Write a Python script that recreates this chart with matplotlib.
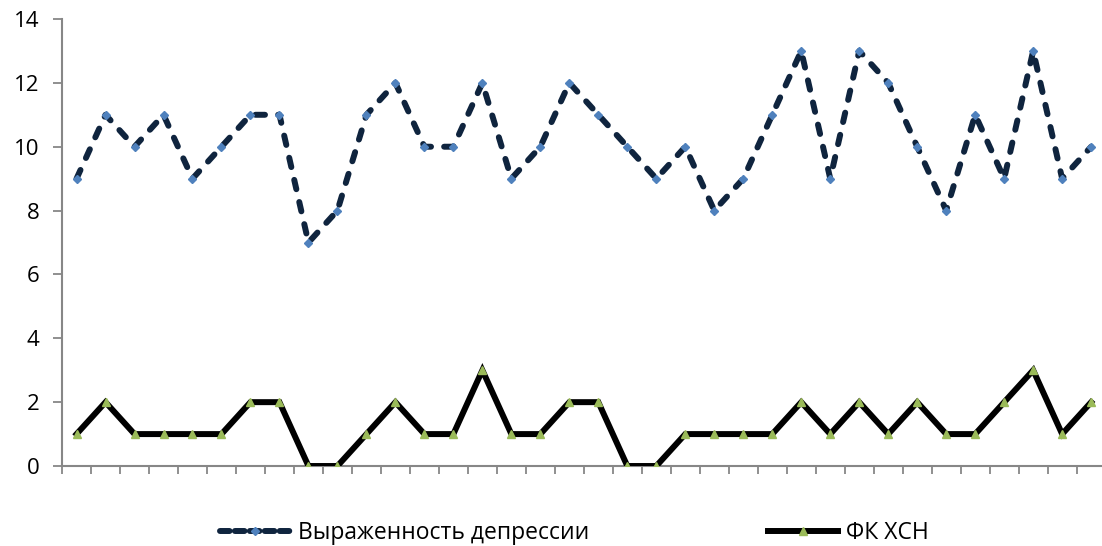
import matplotlib.pyplot as plt
from matplotlib.lines import Line2D

# scores per patient (36 patients)
depression = [9, 11, 10, 11, 9, 10, 11, 11, 7, 8, 11, 12, 10, 10, 12, 9, 10, 12,
              11, 10, 9, 10, 8, 9, 11, 13, 9, 13, 12, 10, 8, 11, 9, 13, 9, 10]
fk_chf = [1, 2, 1, 1, 1, 1, 2, 2, 0, 0, 1, 2, 1, 1, 3, 1, 1, 2,
          2, 0, 0, 1, 1, 1, 1, 2, 1, 2, 1, 2, 1, 1, 2, 3, 1, 2]
labels = ["Выраженность депрессии", "ФК ХСН"]
yticks = [0, 2, 4, 6, 8, 10, 12, 14]

plt.rcParams["font.family"] = ["Open Sans", "DejaVu Sans"]

fig = plt.figure(figsize=(11.02, 5.46), dpi=100)
ax = fig.add_axes([0.0563, 0.1465, 0.947, 0.8187])

x = range(len(depression))
ax.plot(x, depression, color="#0F243E", lw=4.3, linestyle=(0, (1.6, 2.2)),
        dash_capstyle="round", solid_capstyle="round",
        marker="D", ms=4.5, mfc="#4F81BD", mec="#4F81BD", zorder=3)
ax.plot(x, fk_chf, color="black", lw=4.3, solid_joinstyle="miter",
        marker="^", ms=6, mfc="#9BBB59", mec="#9BBB59", zorder=3)

ax.set_xlim(-0.5, len(depression) - 0.5)
ax.set_ylim(0, 14)
ax.set_yticks(yticks)
ax.set_xticks([i - 0.5 for i in range(len(depression) + 1)])
ax.set_xticklabels([])
ax.tick_params(axis="y", labelsize=16, length=6.5, width=1.3, color="#878787", pad=10)
ax.tick_params(axis="x", direction="out", length=6, width=1.3, color="#878787")

for side in ["top", "right"]:
    ax.spines[side].set_visible(False)
for side in ["left", "bottom"]:
    ax.spines[side].set_color("#878787")
    ax.spines[side].set_linewidth(1.5)

handles = [
    Line2D([], [], color="#0F243E", lw=4.3, linestyle=(0, (1.6, 0.9)),
           dash_capstyle="round", marker="D", ms=4.5, mfc="#4F81BD",
           mec="#4F81BD", markevery=[1]),
    Line2D([], [], color="black", lw=4.3, marker="^", ms=6,
           mfc="#9BBB59", mec="#9BBB59", markevery=[1]),
]
fig.legend(handles, labels, loc="center", bbox_to_anchor=(0.521, 0.024),
           ncol=2, frameon=False, fontsize=16.5, handlelength=3.05,
           handletextpad=0.35, columnspacing=7.8)

fig.savefig("out.png", dpi=100)
plt.close(fig)
